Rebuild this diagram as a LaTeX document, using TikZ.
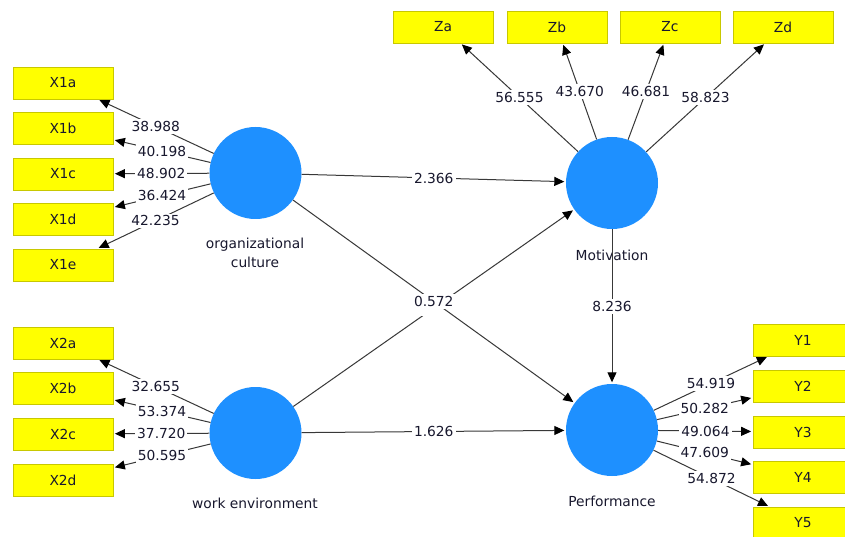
\documentclass[tikz,border=0pt]{standalone}
\usepackage{fontspec}
\setmainfont{DejaVu Sans}
\usetikzlibrary{arrows.meta}
\definecolor{boxfill}{HTML}{FFFF00}
\definecolor{boxline}{HTML}{C8C800}
\definecolor{lv}{HTML}{1E90FF}
\definecolor{edge}{HTML}{383838}
\definecolor{txt}{HTML}{18182E}
\begin{document}
\begin{tikzpicture}[x=1pt,y=-1pt,
  font=\fontsize{13.8}{19}\selectfont, text=txt,
  ind/.style={draw=boxline, fill=boxfill, minimum width=100pt, minimum height=32pt, inner sep=0pt, line width=0.8pt},
  lat/.style={circle, fill=lv, minimum size=92pt, inner sep=0pt},
  link/.style={draw=edge, line width=1pt, shorten >=1.5pt, -{Triangle[length=10pt,width=9pt,color=black]}},
  val/.style={fill=white, inner sep=2pt, text=txt},
  lvcap/.style={align=center, text=txt}]
\clip (0,0) rectangle (845,537);
\fill[white] (0,0) rectangle (845,537);
% latent variables
\node[lat] (oc) at (255.5,173) {};
\node[lat] (we) at (255.5,433) {};
\node[lat] (mo) at (612,183) {};
\node[lat] (pe) at (612,430) {};
% captions
\node[lvcap] (ocl) at (255,253) {organizational\\culture};
\node[lvcap] (wel) at (255,503) {work environment};
\node[lvcap] (mol) at (612,255) {Motivation};
\node[lvcap] (pel) at (612,501) {Performance};
% indicators
\node[ind] (x1a) at (63,83) {X1a};
\node[ind] (x1b) at (63,128) {X1b};
\node[ind] (x1c) at (63,174) {X1c};
\node[ind] (x1d) at (63,219.5) {X1d};
\node[ind] (x1e) at (63,265) {X1e};
\node[ind] (x2a) at (63,343) {X2a};
\node[ind] (x2b) at (63,388) {X2b};
\node[ind] (x2c) at (63,434) {X2c};
\node[ind] (x2d) at (63,480) {X2d};
\node[ind] (za) at (443,27) {Za};
\node[ind] (zb) at (557,27) {Zb};
\node[ind] (zc) at (670,27) {Zc};
\node[ind] (zd) at (783,27) {Zd};
\node[ind] (y1) at (803,340) {Y1};
\node[ind] (y2) at (803,386) {Y2};
\node[ind] (y3) at (803,432) {Y3};
\node[ind] (y4) at (803,477) {Y4};
\node[ind] (y5) at (803,523) {Y5};
% loadings
\draw[link] (oc) -- node[val] {38.988} (x1a);
\draw[link] (oc) -- node[val] {40.198} (x1b);
\draw[link] (oc) -- node[val] {48.902} (x1c);
\draw[link] (oc) -- node[val] {36.424} (x1d);
\draw[link] (oc) -- node[val] {42.235} (x1e);
\draw[link] (we) -- node[val] {32.655} (x2a);
\draw[link] (we) -- node[val] {53.374} (x2b);
\draw[link] (we) -- node[val] {37.720} (x2c);
\draw[link] (we) -- node[val] {50.595} (x2d);
\draw[link] (mo) -- node[val] {56.555} (za);
\draw[link] (mo) -- node[val] {43.670} (zb);
\draw[link] (mo) -- node[val] {46.681} (zc);
\draw[link] (mo) -- node[val] {58.823} (zd);
\draw[link] (pe) -- node[val] {54.919} (y1);
\draw[link] (pe) -- node[val] {50.282} (y2);
\draw[link] (pe) -- node[val] {49.064} (y3);
\draw[link] (pe) -- node[val] {47.609} (y4);
\draw[link] (pe) -- node[val] {54.872} (y5);
% structural paths
\draw[link] (oc) -- node[val] {2.366} (mo);
\draw[link] (we) -- node[val, minimum width=42pt, minimum height=16pt] (hid) {} (mo);
\draw[link] (oc) -- node[val] {0.572} (pe);
\draw[link] (we) -- node[val] {1.626} (pe);
\draw[link] (mo) -- node[val] {8.236} (pe);
\end{tikzpicture}
\end{document}
